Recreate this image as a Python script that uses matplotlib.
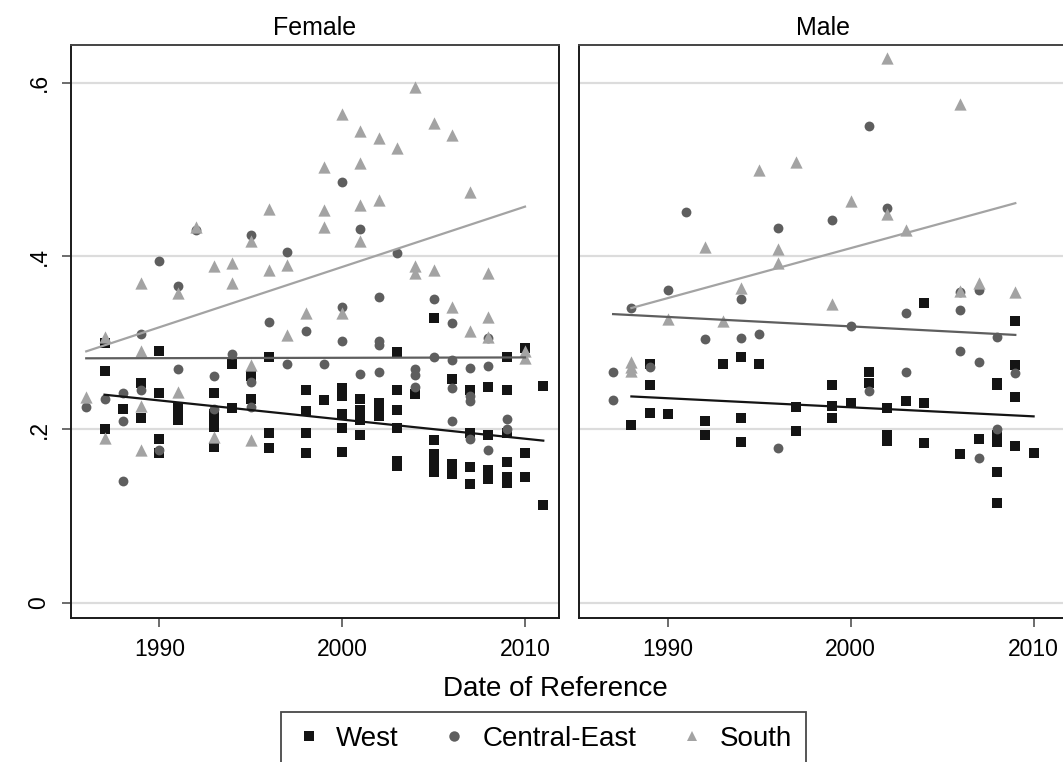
import numpy as np
import matplotlib
matplotlib.use('Agg')
from matplotlib import pyplot as plt
from matplotlib.lines import Line2D

plt.rcParams['font.family'] = ['Liberation Sans', 'DejaVu Sans']

# ---- data: year columns and the values seen in each column ----
fem_west_years = [1987, 1988, 1989, 1990, 1991, 1993, 1994, 1995, 1996, 1998, 1999, 2000,
                  2001, 2002, 2003, 2004, 2005, 2006, 2007, 2008, 2009, 2010, 2011]
fem_west_vals = [[0.300, 0.267, 0.201], [0.224], [0.253, 0.213], [0.291, 0.242, 0.189, 0.173],
                 [0.225, 0.218, 0.211], [0.242, 0.218, 0.210, 0.203, 0.180], [0.276, 0.225],
                 [0.262, 0.235], [0.283, 0.196, 0.178], [0.245, 0.221, 0.196, 0.173], [0.234],
                 [0.248, 0.239, 0.218, 0.202, 0.174], [0.235, 0.222, 0.216, 0.211, 0.193],
                 [0.231, 0.223, 0.215], [0.289, 0.245, 0.222, 0.202, 0.164, 0.158], [0.241],
                 [0.328, 0.188, 0.172, 0.161, 0.151], [0.258, 0.160, 0.149],
                 [0.246, 0.196, 0.157, 0.137], [0.249, 0.193, 0.153, 0.143],
                 [0.283, 0.245, 0.196, 0.162, 0.145, 0.138], [0.294, 0.173, 0.145], [0.250, 0.113]]

fem_ce_years = [1986, 1987, 1988, 1989, 1990, 1991, 1992, 1993, 1994, 1995, 1996, 1997, 1998,
                1999, 2000, 2001, 2002, 2003, 2004, 2005, 2006, 2007, 2008, 2009]
fem_ce_vals = [[0.226], [0.235], [0.242, 0.210, 0.141], [0.310, 0.246], [0.394, 0.176],
               [0.365, 0.270], [0.430], [0.262, 0.223], [0.287], [0.424, 0.255, 0.226],
               [0.324], [0.405, 0.276], [0.313], [0.276], [0.486, 0.341, 0.302], [0.431, 0.264],
               [0.353, 0.302, 0.297, 0.266], [0.404], [0.270, 0.263, 0.249], [0.350, 0.283],
               [0.323, 0.280, 0.248, 0.210], [0.271, 0.239, 0.233, 0.189],
               [0.305, 0.273, 0.176], [0.212, 0.200]]

fem_south_years = [1986, 1987, 1989, 1991, 1992, 1993, 1994, 1995, 1996, 1997, 1998, 1999,
                   2000, 2001, 2002, 2003, 2004, 2005, 2006, 2007, 2008, 2010]
fem_south_vals = [[0.237], [0.307, 0.190], [0.369, 0.291, 0.227, 0.176], [0.357, 0.243],
                  [0.433], [0.388, 0.191], [0.392, 0.369], [0.417, 0.274, 0.188],
                  [0.454, 0.384], [0.390, 0.309], [0.334], [0.503, 0.453, 0.433],
                  [0.564, 0.334], [0.544, 0.507, 0.459, 0.417], [0.536, 0.465], [0.525],
                  [0.595, 0.388, 0.380], [0.554, 0.384], [0.540, 0.341], [0.474, 0.314],
                  [0.381, 0.330, 0.307], [0.291, 0.282]]

male_west_years = [1988, 1989, 1990, 1992, 1993, 1994, 1995, 1997, 1999, 2000, 2001, 2002,
                   2003, 2004, 2006, 2007, 2008, 2009, 2010]
male_west_vals = [[0.205], [0.276, 0.251, 0.219], [0.218], [0.210, 0.194], [0.276],
                  [0.283, 0.213, 0.185], [0.275], [0.226, 0.198], [0.251, 0.227, 0.213],
                  [0.231], [0.266, 0.254], [0.225, 0.193, 0.187], [0.233],
                  [0.346, 0.231, 0.184], [0.172], [0.189],
                  [0.254, 0.251, 0.193, 0.185, 0.151, 0.115], [0.325, 0.274, 0.237, 0.181],
                  [0.173]]

male_ce_years = [1987, 1988, 1989, 1990, 1991, 1992, 1994, 1995, 1996, 1999, 2000, 2001,
                 2002, 2003, 2006, 2007, 2008, 2009]
male_ce_vals = [[0.266, 0.234], [0.340], [0.272], [0.361], [0.451], [0.304], [0.350, 0.305],
                [0.310], [0.432, 0.178], [0.442], [0.319], [0.550, 0.244], [0.455],
                [0.334, 0.266], [0.358, 0.338, 0.290], [0.361, 0.278, 0.167], [0.307, 0.200],
                [0.265]]

male_south_years = [1988, 1990, 1992, 1993, 1994, 1995, 1996, 1997, 1999, 2000, 2002, 2003,
                    2006, 2007, 2009]
male_south_vals = [[0.278, 0.272, 0.267], [0.327], [0.411], [0.325], [0.363], [0.499],
                   [0.408, 0.392], [0.509], [0.345], [0.463], [0.629, 0.449], [0.430],
                   [0.575, 0.360], [0.369], [0.358]]

# fitted lines: (start year, end year), (start value, end value)
fem_fit_years = {'West': (1987, 2011), 'Central-East': (1986, 2010), 'South': (1986, 2010)}
fem_fit_vals = {'West': (0.240, 0.187), 'Central-East': (0.282, 0.283), 'South': (0.290, 0.457)}
male_fit_years = {'West': (1988, 2010), 'Central-East': (1987, 2009), 'South': (1988, 2009)}
male_fit_vals = {'West': (0.238, 0.215), 'Central-East': (0.333, 0.309), 'South': (0.340, 0.461)}

regions = ['West', 'Central-East', 'South']
colors = {'West': '#141414', 'Central-East': '#5e5e5e', 'South': '#a3a3a3'}
markers = {'West': 's', 'Central-East': 'o', 'South': '^'}
sizes = {'West': 62, 'Central-East': 50, 'South': 78}


def expand(years, vals):
    xs, ys = [], []
    for yr, vs in zip(years, vals):
        for v in vs:
            xs.append(yr)
            ys.append(v)
    return xs, ys


W, H = 1063, 762
fig = plt.figure(figsize=(W / 100, H / 100), dpi=100)
left_f, right_f, top, bottom = 70.7, 559.0, 45.0, 617.7
pw = (right_f - left_f) / W
ph = (bottom - top) / H
ax_f = fig.add_axes([left_f / W, (H - bottom) / H, pw, ph])
ax_m = fig.add_axes([579.3 / W, (H - bottom) / H, pw, ph])

panels = [
    (ax_f, 'Female',
     {'West': (fem_west_years, fem_west_vals), 'Central-East': (fem_ce_years, fem_ce_vals),
      'South': (fem_south_years, fem_south_vals)}, fem_fit_years, fem_fit_vals),
    (ax_m, 'Male',
     {'West': (male_west_years, male_west_vals), 'Central-East': (male_ce_years, male_ce_vals),
      'South': (male_south_years, male_south_vals)}, male_fit_years, male_fit_vals),
]

for ax, title, groups, fy, fv in panels:
    for r in regions:
        xs, ys = expand(*groups[r])
        ax.scatter(xs, ys, marker=markers[r], s=sizes[r], c=colors[r], linewidths=0, zorder=3)
    for r in regions:
        ax.plot(fy[r], fv[r], color=colors[r], lw=1.6, zorder=4)
    ax.set_xlim(1985.15, 2011.86)
    ax.set_ylim(-0.0173, 0.6435)
    ax.set_xticks([1990, 2000, 2010])
    ax.set_yticks([0, 0.2, 0.4, 0.6])
    ax.set_yticklabels(['0', '.2', '.4', '.6'], rotation=90, va='center')
    ax.grid(axis='y', color='#dcdcdc', lw=1.6, zorder=0)
    ax.set_axisbelow(True)
    for s in ax.spines.values():
        s.set_color('#1a1a1a')
        s.set_linewidth(1.4)
    ax.spines['top'].set_color('#444444')
    ax.tick_params(axis='both', length=6.5, width=1.1, color='#444444', labelsize=16.5, pad=8)
    ax.set_title(title, fontsize=18, pad=7)

ax_m.tick_params(axis='y', left=False, labelleft=False)

fig.text(0.522, 0.0958, 'Date of Reference', ha='center', va='center', fontsize=20)

handles = [Line2D([], [], ls='none', marker=markers[r], color=colors[r], markersize=7.5,
                  markeredgewidth=0) for r in regions]
leg = fig.legend(handles, regions, loc='upper center', bbox_to_anchor=(0.511, 0.0656), ncol=3,
                 fontsize=20, frameon=True, fancybox=False, handletextpad=0.5,
                 columnspacing=1.5, borderpad=0.5, handlelength=1.0, borderaxespad=0)
leg.get_frame().set_edgecolor('#1a1a1a')
leg.get_frame().set_linewidth(1.3)

fig.savefig('out.png', dpi=100)
